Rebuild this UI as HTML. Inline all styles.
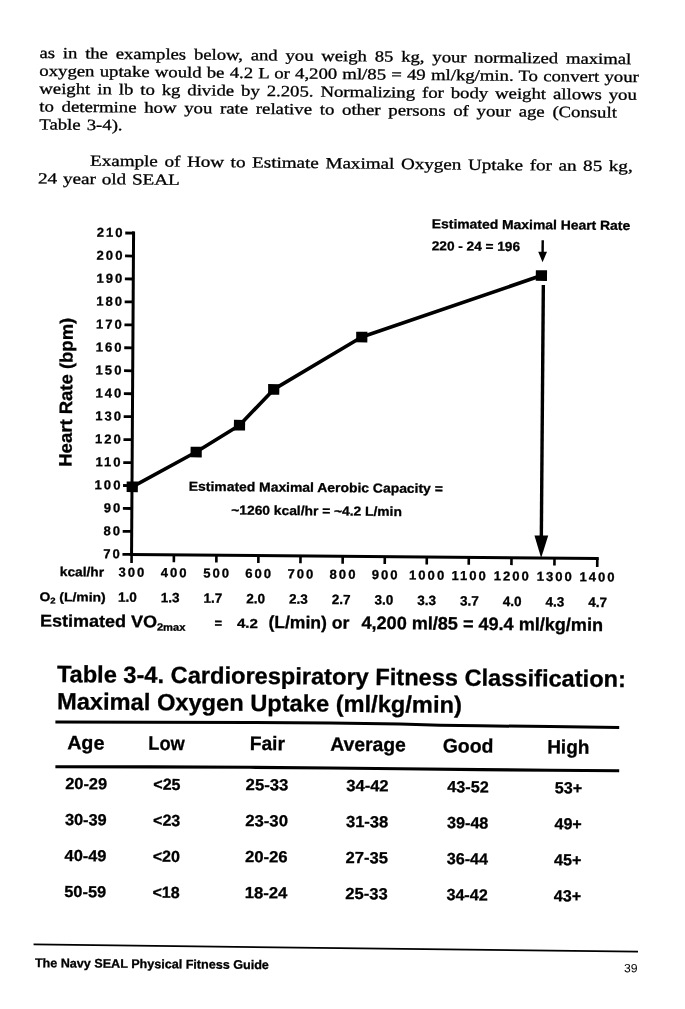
<!DOCTYPE html>
<html><head><meta charset="utf-8"><title>Page 39</title>
<style>
html,body{margin:0;padding:0;background:#fff;}
body{width:685px;height:1009px;overflow:hidden;position:relative;}
svg{will-change:transform;filter:grayscale(1);position:absolute;left:0;top:0;display:block;}
text{fill:#000;white-space:pre;}
.se{font-family:"Liberation Serif",serif;font-size:15.6px;word-spacing:2.2px;stroke:#000;stroke-width:0.3px;}
.sb{font-family:"Liberation Sans",sans-serif;font-weight:700;stroke:#000;stroke-width:0.3px;}
.sr{font-family:"Liberation Sans",sans-serif;font-weight:400;}
</style></head><body>
<svg width="685" height="1009" viewBox="0 0 685 1009">
<rect x="0" y="0" width="685" height="1009" fill="#fff"/>
<g transform="rotate(0.5)">
<g transform="rotate(0.1 38 58)">
<text x="39.90" y="57.65" class="se" textLength="591.8" lengthAdjust="spacingAndGlyphs" style="word-spacing:2.7px">as in the examples below, and you weigh 85 kg, your normalized maximal</text>
<text x="40.06" y="75.50" class="se" textLength="599.5" lengthAdjust="spacingAndGlyphs" style="word-spacing:0.45px">oxygen uptake would be 4.2 L or 4,200 ml/85 = 49 ml/kg/min. To convert your</text>
<text x="40.22" y="93.35" class="se" textLength="597.5" lengthAdjust="spacingAndGlyphs" style="word-spacing:1.87px">weight in lb to kg divide by 2.205. Normalizing for body weight allows you</text>
<text x="40.37" y="111.20" class="se" textLength="577.6" lengthAdjust="spacingAndGlyphs" style="word-spacing:2.57px">to determine how you rate relative to other persons of your age (Consult</text>
<text x="40.53" y="129.05" class="se" textLength="83.3" lengthAdjust="spacingAndGlyphs" style="word-spacing:1.2px">Table 3-4).</text>
<text x="91.64" y="164.81" class="se" textLength="542.7" lengthAdjust="spacingAndGlyphs" style="word-spacing:1.5px">Example of How to Estimate Maximal Oxygen Uptake for an 85 kg,</text>
<text x="39.90" y="183.16" class="se" textLength="141.6" lengthAdjust="spacingAndGlyphs" style="word-spacing:0.86px">24 year old SEAL</text>
</g>
<line x1="135.6" y1="230.2" x2="136.4" y2="554.65" stroke="#000" stroke-width="3"/>
<line x1="134.5" y1="553.25" x2="603.6" y2="553.25" stroke="#000" stroke-width="3"/>
<line x1="127.3" y1="231.90" x2="136.0" y2="231.90" stroke="#000" stroke-width="2.8"/>
<text x="126.70" y="235.90" class="sb" font-size="13" text-anchor="end" letter-spacing="2.05">210</text>
<line x1="127.3" y1="254.85" x2="136.0" y2="254.85" stroke="#000" stroke-width="2.8"/>
<text x="126.70" y="258.85" class="sb" font-size="13" text-anchor="end" letter-spacing="2.05">200</text>
<line x1="127.3" y1="277.81" x2="136.0" y2="277.81" stroke="#000" stroke-width="2.8"/>
<text x="126.70" y="281.81" class="sb" font-size="13" text-anchor="end" letter-spacing="2.05">190</text>
<line x1="127.3" y1="300.76" x2="136.0" y2="300.76" stroke="#000" stroke-width="2.8"/>
<text x="126.70" y="304.76" class="sb" font-size="13" text-anchor="end" letter-spacing="2.05">180</text>
<line x1="127.3" y1="323.71" x2="136.0" y2="323.71" stroke="#000" stroke-width="2.8"/>
<text x="126.70" y="327.71" class="sb" font-size="13" text-anchor="end" letter-spacing="2.05">170</text>
<line x1="127.3" y1="346.67" x2="136.0" y2="346.67" stroke="#000" stroke-width="2.8"/>
<text x="126.70" y="350.67" class="sb" font-size="13" text-anchor="end" letter-spacing="2.05">160</text>
<line x1="127.3" y1="369.62" x2="136.0" y2="369.62" stroke="#000" stroke-width="2.8"/>
<text x="126.70" y="373.62" class="sb" font-size="13" text-anchor="end" letter-spacing="2.05">150</text>
<line x1="127.3" y1="392.58" x2="136.0" y2="392.58" stroke="#000" stroke-width="2.8"/>
<text x="126.70" y="396.58" class="sb" font-size="13" text-anchor="end" letter-spacing="2.05">140</text>
<line x1="127.3" y1="415.53" x2="136.0" y2="415.53" stroke="#000" stroke-width="2.8"/>
<text x="126.70" y="419.53" class="sb" font-size="13" text-anchor="end" letter-spacing="2.05">130</text>
<line x1="127.3" y1="438.48" x2="136.0" y2="438.48" stroke="#000" stroke-width="2.8"/>
<text x="126.70" y="442.48" class="sb" font-size="13" text-anchor="end" letter-spacing="2.05">120</text>
<line x1="127.3" y1="461.44" x2="136.0" y2="461.44" stroke="#000" stroke-width="2.8"/>
<text x="126.70" y="465.44" class="sb" font-size="13" text-anchor="end" letter-spacing="2.05">110</text>
<line x1="127.3" y1="484.39" x2="136.0" y2="484.39" stroke="#000" stroke-width="2.8"/>
<text x="126.70" y="488.39" class="sb" font-size="13" text-anchor="end" letter-spacing="2.05">100</text>
<line x1="127.3" y1="507.34" x2="136.0" y2="507.34" stroke="#000" stroke-width="2.8"/>
<text x="126.70" y="511.34" class="sb" font-size="13" text-anchor="end" letter-spacing="2.05">90</text>
<line x1="127.3" y1="530.30" x2="136.0" y2="530.30" stroke="#000" stroke-width="2.8"/>
<text x="126.70" y="534.30" class="sb" font-size="13" text-anchor="end" letter-spacing="2.05">80</text>
<line x1="127.3" y1="553.25" x2="136.0" y2="553.25" stroke="#000" stroke-width="2.8"/>
<text x="126.70" y="557.25" class="sb" font-size="13" text-anchor="end" letter-spacing="2.05">70</text>
<line x1="136.45" y1="553.25" x2="136.45" y2="561.85" stroke="#000" stroke-width="2.6"/>
<text x="137.45" y="575.50" class="sb" font-size="13" text-anchor="middle" letter-spacing="2.05">300</text>
<line x1="178.75" y1="553.25" x2="178.75" y2="560.65" stroke="#000" stroke-width="2.6"/>
<text x="179.75" y="575.56" class="sb" font-size="13" text-anchor="middle" letter-spacing="2.05">400</text>
<line x1="221.25" y1="553.25" x2="221.25" y2="560.65" stroke="#000" stroke-width="2.6"/>
<text x="222.25" y="575.62" class="sb" font-size="13" text-anchor="middle" letter-spacing="2.05">500</text>
<line x1="263.25" y1="553.25" x2="263.25" y2="560.65" stroke="#000" stroke-width="2.6"/>
<text x="264.25" y="575.68" class="sb" font-size="13" text-anchor="middle" letter-spacing="2.05">600</text>
<line x1="305.35" y1="553.25" x2="305.35" y2="560.65" stroke="#000" stroke-width="2.6"/>
<text x="306.35" y="575.74" class="sb" font-size="13" text-anchor="middle" letter-spacing="2.05">700</text>
<line x1="347.55" y1="553.25" x2="347.55" y2="560.65" stroke="#000" stroke-width="2.6"/>
<text x="348.55" y="575.80" class="sb" font-size="13" text-anchor="middle" letter-spacing="2.05">800</text>
<line x1="389.65" y1="553.25" x2="389.65" y2="560.65" stroke="#000" stroke-width="2.6"/>
<text x="390.65" y="575.86" class="sb" font-size="13" text-anchor="middle" letter-spacing="2.05">900</text>
<line x1="431.65" y1="553.25" x2="431.65" y2="560.65" stroke="#000" stroke-width="2.6"/>
<text x="432.65" y="575.92" class="sb" font-size="13" text-anchor="middle" letter-spacing="2.05">1000</text>
<line x1="473.65" y1="553.25" x2="473.65" y2="560.65" stroke="#000" stroke-width="2.6"/>
<text x="474.65" y="575.98" class="sb" font-size="13" text-anchor="middle" letter-spacing="2.05">1100</text>
<line x1="516.35" y1="553.25" x2="516.35" y2="560.65" stroke="#000" stroke-width="2.6"/>
<text x="517.35" y="576.04" class="sb" font-size="13" text-anchor="middle" letter-spacing="2.05">1200</text>
<line x1="559.35" y1="553.25" x2="559.35" y2="560.65" stroke="#000" stroke-width="2.6"/>
<text x="560.35" y="576.10" class="sb" font-size="13" text-anchor="middle" letter-spacing="2.05">1300</text>
<line x1="602.15" y1="553.25" x2="602.15" y2="561.85" stroke="#000" stroke-width="2.6"/>
<text x="603.15" y="576.16" class="sb" font-size="13" text-anchor="middle" letter-spacing="2.05">1400</text>
<text x="123.25" y="600.70" class="sb" font-size="13.5" letter-spacing="0">1.0</text>
<text x="166.01" y="600.79" class="sb" font-size="13.5" letter-spacing="0">1.3</text>
<text x="208.77" y="600.88" class="sb" font-size="13.5" letter-spacing="0">1.7</text>
<text x="251.53" y="600.97" class="sb" font-size="13.5" letter-spacing="0">2.0</text>
<text x="294.30" y="601.06" class="sb" font-size="13.5" letter-spacing="0">2.3</text>
<text x="337.06" y="601.15" class="sb" font-size="13.5" letter-spacing="0">2.7</text>
<text x="379.82" y="601.24" class="sb" font-size="13.5" letter-spacing="0">3.0</text>
<text x="422.58" y="601.33" class="sb" font-size="13.5" letter-spacing="0">3.3</text>
<text x="465.34" y="601.42" class="sb" font-size="13.5" letter-spacing="0">3.7</text>
<text x="508.10" y="601.51" class="sb" font-size="13.5" letter-spacing="0">4.0</text>
<text x="550.87" y="601.60" class="sb" font-size="13.5" letter-spacing="0">4.3</text>
<text x="593.63" y="601.69" class="sb" font-size="13.5" letter-spacing="0">4.7</text>
<text x="64.83" y="575.56" class="sb" font-size="13" textLength="44.2" lengthAdjust="spacingAndGlyphs">kcal/hr</text>
<text x="44.64" y="600.63" class="sb" font-size="12.5" textLength="66.3" lengthAdjust="spacingAndGlyphs">O<tspan font-size="8.5" dy="2.5">2</tspan><tspan dy="-2.5"> (L/min)</tspan></text>
<text x="45.36" y="626.03" class="sb" font-size="17" textLength="145.5" lengthAdjust="spacingAndGlyphs">Estimated VO<tspan font-size="10.5" dy="3.2">2max</tspan></text>
<text x="219.97" y="625.70" class="sb" font-size="13">=</text>
<text x="242.37" y="625.70" class="sb" font-size="13" textLength="20.9" lengthAdjust="spacingAndGlyphs">4.2</text>
<text x="273.87" y="625.70" class="sb" font-size="17.5" textLength="80.9" lengthAdjust="spacingAndGlyphs">(L/min) or</text>
<text x="366.97" y="625.70" class="sb" font-size="18" textLength="241.5" lengthAdjust="spacingAndGlyphs">4,200 ml/85 = 49.4 ml/kg/min</text>
<text transform="translate(75.6,466.1) rotate(-90)" x="0" y="0" class="sb" font-size="18" textLength="149" lengthAdjust="spacingAndGlyphs">Heart Rate (bpm)</text>
<polyline fill="none" stroke="#000" stroke-width="3.6" stroke-linejoin="round" points="136.5,485.7 200.1,450.3 243.2,423.1 277.1,387.0 364.7,333.9 543.8,270.8"/>
<rect x="130.9" y="480.4" width="11.2" height="10.6" fill="#000"/>
<rect x="194.5" y="445.0" width="11.2" height="10.6" fill="#000"/>
<rect x="237.6" y="417.8" width="11.2" height="10.6" fill="#000"/>
<rect x="271.5" y="381.7" width="11.2" height="10.6" fill="#000"/>
<rect x="359.1" y="328.6" width="11.2" height="10.6" fill="#000"/>
<rect x="538.2" y="265.5" width="11.2" height="10.6" fill="#000"/>
<line x1="545.8" y1="280.2" x2="546.0" y2="536" stroke="#000" stroke-width="3.4"/>
<polygon points="539.1,530.8 552.9,530.8 546.0,553.2" fill="#000"/>
<line x1="544.8" y1="235.5" x2="544.8" y2="250" stroke="#000" stroke-width="2.4"/>
<polygon points="540.4,247.0 549.2,247.0 544.8,257.6" fill="#000"/>
<text x="433.78" y="224.52" class="sb" font-size="13" textLength="198.4" lengthAdjust="spacingAndGlyphs">Estimated Maximal Heart Rate</text>
<text x="433.97" y="246.52" class="sb" font-size="13" textLength="88.2" lengthAdjust="spacingAndGlyphs">220 - 24 = 196</text>
<text x="193.08" y="489.13" class="sb" font-size="13" textLength="254.0" lengthAdjust="spacingAndGlyphs">Estimated Maximal Aerobic Capacity =</text>
<text x="235.78" y="512.46" class="sb" font-size="13" textLength="170.6" lengthAdjust="spacingAndGlyphs">~1260 kcal/hr = ~4.2 L/min</text>
<text x="62.85" y="681.58" class="sb" font-size="23.5" textLength="569.0" lengthAdjust="spacingAndGlyphs">Table 3-4. Cardiorespiratory Fitness Classification:</text>
<text x="63.19" y="708.78" class="sb" font-size="23.5" textLength="404.8" lengthAdjust="spacingAndGlyphs">Maximal Oxygen Uptake (ml/kg/min)</text>
<text x="73.70" y="748.60" class="sb" font-size="19.5" textLength="37.2" lengthAdjust="spacingAndGlyphs">Age</text>
<text x="154.85" y="748.50" class="sb" font-size="19.5" textLength="36.3" lengthAdjust="spacingAndGlyphs">Low</text>
<text x="256.20" y="747.70" class="sb" font-size="19.5" textLength="35.2" lengthAdjust="spacingAndGlyphs">Fair</text>
<text x="336.70" y="747.80" class="sb" font-size="19.5" textLength="75.6" lengthAdjust="spacingAndGlyphs">Average</text>
<text x="449.30" y="748.40" class="sb" font-size="19.5" textLength="50.6" lengthAdjust="spacingAndGlyphs">Good</text>
<text x="553.70" y="748.60" class="sb" font-size="19.5" textLength="42.2" lengthAdjust="spacingAndGlyphs">High</text>
<text x="72.10" y="788.40" class="sb" font-size="16" textLength="41.8" lengthAdjust="spacingAndGlyphs">20-29</text>
<text x="160.25" y="788.40" class="sb" font-size="16" textLength="27.1" lengthAdjust="spacingAndGlyphs">&lt;25</text>
<text x="252.50" y="787.90" class="sb" font-size="16" textLength="42.6" lengthAdjust="spacingAndGlyphs">25-33</text>
<text x="353.15" y="787.90" class="sb" font-size="16" textLength="42.3" lengthAdjust="spacingAndGlyphs">34-42</text>
<text x="454.25" y="788.20" class="sb" font-size="16" textLength="41.3" lengthAdjust="spacingAndGlyphs">43-52</text>
<text x="561.65" y="788.40" class="sb" font-size="16" textLength="27.3" lengthAdjust="spacingAndGlyphs">53+</text>
<text x="72.10" y="824.40" class="sb" font-size="16" textLength="41.8" lengthAdjust="spacingAndGlyphs">30-39</text>
<text x="160.25" y="824.40" class="sb" font-size="16" textLength="27.1" lengthAdjust="spacingAndGlyphs">&lt;23</text>
<text x="252.50" y="823.90" class="sb" font-size="16" textLength="42.6" lengthAdjust="spacingAndGlyphs">23-30</text>
<text x="353.15" y="823.90" class="sb" font-size="16" textLength="42.3" lengthAdjust="spacingAndGlyphs">31-38</text>
<text x="454.25" y="824.20" class="sb" font-size="16" textLength="41.3" lengthAdjust="spacingAndGlyphs">39-48</text>
<text x="561.65" y="824.40" class="sb" font-size="16" textLength="27.3" lengthAdjust="spacingAndGlyphs">49+</text>
<text x="72.10" y="860.40" class="sb" font-size="16" textLength="41.8" lengthAdjust="spacingAndGlyphs">40-49</text>
<text x="160.25" y="860.40" class="sb" font-size="16" textLength="27.1" lengthAdjust="spacingAndGlyphs">&lt;20</text>
<text x="252.50" y="859.90" class="sb" font-size="16" textLength="42.6" lengthAdjust="spacingAndGlyphs">20-26</text>
<text x="353.15" y="859.90" class="sb" font-size="16" textLength="42.3" lengthAdjust="spacingAndGlyphs">27-35</text>
<text x="454.25" y="860.20" class="sb" font-size="16" textLength="41.3" lengthAdjust="spacingAndGlyphs">36-44</text>
<text x="561.65" y="860.40" class="sb" font-size="16" textLength="27.3" lengthAdjust="spacingAndGlyphs">45+</text>
<text x="72.10" y="896.40" class="sb" font-size="16" textLength="41.8" lengthAdjust="spacingAndGlyphs">50-59</text>
<text x="160.25" y="896.40" class="sb" font-size="16" textLength="27.1" lengthAdjust="spacingAndGlyphs">&lt;18</text>
<text x="252.50" y="895.90" class="sb" font-size="16" textLength="42.6" lengthAdjust="spacingAndGlyphs">18-24</text>
<text x="353.15" y="895.90" class="sb" font-size="16" textLength="42.3" lengthAdjust="spacingAndGlyphs">25-33</text>
<text x="454.25" y="896.20" class="sb" font-size="16" textLength="41.3" lengthAdjust="spacingAndGlyphs">34-42</text>
<text x="561.65" y="896.40" class="sb" font-size="16" textLength="27.3" lengthAdjust="spacingAndGlyphs">43+</text>
<line x1="41.8" y1="944.1" x2="646.3" y2="946.1" stroke="#000" stroke-width="1.8"/>
<text x="43.34" y="966.76" class="sb" font-size="12.5" textLength="234.0" lengthAdjust="spacingAndGlyphs">The Navy SEAL Physical Fitness Guide</text>
<text x="632.46" y="966.82" class="sr" font-size="12" textLength="13.5" lengthAdjust="spacingAndGlyphs">39</text>
</g>
<polyline fill="none" stroke="#000" stroke-width="3" points="55.4,722.1 150,722.2 250,722.4 330,723.0 400,724.1 440,725.2 480,725.8 550,726.6 619.2,727.5"/>
<polyline fill="none" stroke="#000" stroke-width="3.1" points="55.4,766.8 150,766.9 250,767.3 330,768.0 400,768.8 480,769.6 550,770.2 619.2,770.8"/>
</svg></body></html>
